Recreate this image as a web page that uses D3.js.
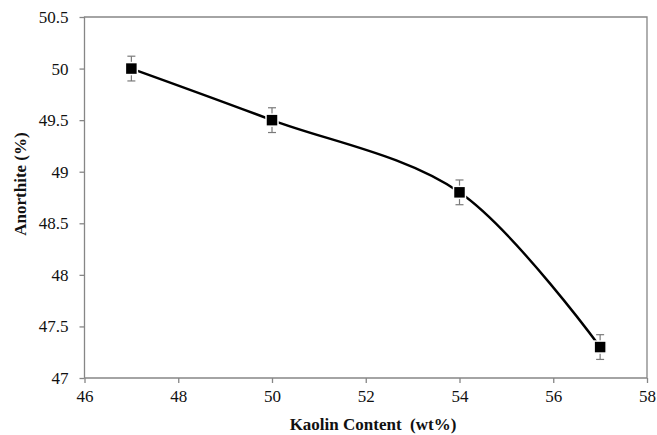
<!DOCTYPE html>
<html><head><meta charset="utf-8">
<script src="https://cdn.jsdelivr.net/npm/d3@7"></script>
<style>body{margin:0;background:#fff}svg{display:block}
svg text{font-family:"Liberation Serif","Times New Roman",serif !important;fill:#111}</style>
</head><body>
<script>
const kaolin = [47, 50, 54, 57];
const anorthite = [50, 49.5, 48.8, 47.3];
const errors = [0.12, 0.12, 0.12, 0.12];
const xTicks = [46, 48, 50, 52, 54, 56, 58];
const yTicks = [47, 47.5, 48, 48.5, 49, 49.5, 50, 50.5];

const W = 657, H = 435;
const m = {left: 84.5, right: 647, top: 17, bottom: 378};
const svg = d3.select("body").append("svg").attr("width", W).attr("height", H);
const x = d3.scaleLinear().domain([46, 58]).range([m.left, m.right]);
const y = d3.scaleLinear().domain([47, 50.5]).range([m.bottom, m.top]);
const axisColor = "#868686";

// frame
svg.append("path")
  .attr("d", `M${m.left},${m.bottom}V${m.top}H${m.right}V${m.bottom}H${m.left}`)
  .attr("fill", "none").attr("stroke", axisColor).attr("stroke-width", 1.3);

const xa = svg.append("g").attr("transform", `translate(0,${m.bottom})`)
  .call(d3.axisBottom(x).tickValues(xTicks).tickSize(5).tickPadding(7).tickFormat(d3.format("d")));
const ya = svg.append("g").attr("transform", `translate(${m.left},0)`)
  .call(d3.axisLeft(y).tickValues(yTicks).tickSize(5).tickPadding(11).tickFormat(d => String(d)));
[xa, ya].forEach(a => {
  a.attr("font-family", null).attr("font-size", null);
  a.select(".domain").remove();
  a.selectAll("line").attr("stroke", axisColor).attr("stroke-width", 1.3);
  a.selectAll("text").style("font-size", "17px");
});

// titles
svg.append("text").attr("x", 373).attr("y", 430).attr("text-anchor", "middle")
  .style("font-weight", "bold").style("font-size", "17px").style("white-space", "pre")
  .text("Kaolin Content  (wt%)");
svg.append("text").attr("transform", "translate(26,184) rotate(-90)").attr("text-anchor", "middle")
  .style("font-weight", "bold").style("font-size", "17px")
  .text("Anorthite (%)");

const pts = kaolin.map((k, i) => [x(k), y(anorthite[i])]);

// smoothed line
svg.append("path").attr("d", d3.line().curve(d3.curveCardinal.tension(0))(pts))
  .attr("fill", "none").attr("stroke", "#000").attr("stroke-width", 2.4);

// error bars
const eb = svg.append("g").attr("stroke", "#7a7a7a").attr("stroke-width", 1.2);
kaolin.forEach((k, i) => {
  const cx = x(k), y1 = y(anorthite[i] + errors[i]), y2 = y(anorthite[i] - errors[i]);
  eb.append("line").attr("x1", cx).attr("x2", cx).attr("y1", y1).attr("y2", y2);
  eb.append("line").attr("x1", cx - 4).attr("x2", cx + 4).attr("y1", y1).attr("y2", y1);
  eb.append("line").attr("x1", cx - 4).attr("x2", cx + 4).attr("y1", y2).attr("y2", y2);
});

// markers
svg.append("g").selectAll("rect").data(pts).join("rect")
  .attr("x", d => d[0] - 6).attr("y", d => d[1] - 6).attr("width", 12).attr("height", 12)
  .attr("fill", "#000").attr("stroke", "#fff").attr("stroke-width", 1.5);
</script>
</body></html>
